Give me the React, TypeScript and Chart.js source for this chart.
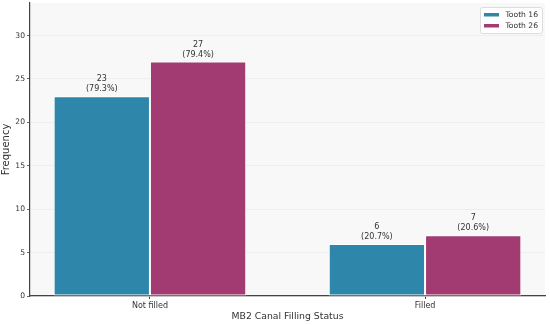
import React, { useEffect, useRef } from "react";
import { Chart, registerables } from "chart.js";

Chart.register(...registerables);

const categories = ["Not filled", "Filled"];
const seriesNames = ["Tooth 16", "Tooth 26"];
const tooth16 = [23, 6];
const tooth26 = [27, 7];
const seriesColors = ["#2E86AB", "#A23B72"];
const yTicks = [0, 5, 10, 15, 20, 25, 30];

const FONT = "'DejaVu Sans', sans-serif";

export default function App() {
  const ref = useRef<HTMLCanvasElement | null>(null);
  useEffect(() => {
    const canvas = ref.current;
    if (!canvas) return;
    const series = [tooth16, tooth26];
    const totals = series.map((s) => s.reduce((a, b) => a + b, 0));

    const bgPlugin = {
      id: "bg",
      beforeDraw(chart: any) {
        const { ctx, chartArea: a } = chart;
        ctx.save();
        ctx.fillStyle = "#f8f8f8";
        ctx.fillRect(a.left, a.top, a.right - a.left, a.bottom - a.top);
        ctx.restore();
      },
    };

    const labelPlugin = {
      id: "labels",
      afterDatasetsDraw(chart: any) {
        const { ctx } = chart;
        ctx.save();
        ctx.font = `8px ${FONT}`;
        ctx.fillStyle = "#333";
        ctx.textAlign = "center";
        ctx.textBaseline = "alphabetic";
        chart.data.datasets.forEach((ds: any, di: number) => {
          const meta = chart.getDatasetMeta(di);
          meta.data.forEach((bar: any, i: number) => {
            const v = series[di][i];
            const pct = ((v / totals[di]) * 100).toFixed(1);
            ctx.fillText(String(v), bar.x, bar.y - 15);
            ctx.fillText(`(${pct}%)`, bar.x, bar.y - 5);
          });
        });
        ctx.restore();
      },
    };

    const legendPlugin = {
      id: "customLegend",
      afterDraw(chart: any) {
        const { ctx, chartArea: a } = chart;
        const w = 62;
        const h = 26;
        const x = a.right - w - 3;
        const y = a.top + 4;
        ctx.save();
        ctx.fillStyle = "rgba(255,255,255,0.85)";
        ctx.strokeStyle = "#dddddd";
        ctx.lineWidth = 1;
        ctx.beginPath();
        if ((ctx as any).roundRect) (ctx as any).roundRect(x + 0.5, y + 0.5, w, h, 2);
        else ctx.rect(x + 0.5, y + 0.5, w, h);
        ctx.fill();
        ctx.stroke();
        ctx.font = `7.6px ${FONT}`;
        ctx.textAlign = "left";
        ctx.textBaseline = "middle";
        seriesNames.forEach((name, i) => {
          const cy = y + 7.5 + i * 11;
          ctx.fillStyle = seriesColors[i];
          ctx.fillRect(x + 4, cy - 1.5, 15, 3.5);
          ctx.fillStyle = "#333";
          ctx.fillText(name, x + 25.5, cy + 0.5);
        });
        ctx.restore();
      },
    };

    const chart = new Chart(canvas, {
      type: "bar",
      data: {
        datasets: series.map((s, di) => ({
          label: seriesNames[di],
          data: s.map((v, i) => ({ x: i, y: v })),
          backgroundColor: seriesColors[di],
          borderColor: "#ffffff",
          borderWidth: 1,
          borderSkipped: false,
          categoryPercentage: 0.7,
          barPercentage: 1,
        })),
      },
      options: {
        animation: false,
        responsive: false,
        maintainAspectRatio: false,
        layout: { padding: { top: 3, right: 5, left: 0, bottom: 0 } },
        plugins: {
          legend: { display: false },
          tooltip: { enabled: false },
        },
        scales: {
          x: {
            type: "linear",
            offset: false,
            min: -0.436,
            max: 1.436,
            afterBuildTicks: (scale: any) => {
              scale.ticks = categories.map((_, i) => ({ value: i }));
            },
            afterFit: (scale: any) => {
              scale.height = 29;
              scale.paddingLeft = 0;
              scale.paddingRight = 0;
            },
            ticks: {
              callback: (v: any) => categories[v as number] ?? "",
              font: { family: FONT, size: 8 },
              color: "#333",
              padding: 2,
              maxRotation: 0,
              autoSkip: false,
            },
            grid: {
              offset: false,
              drawOnChartArea: false,
              drawTicks: true,
              tickLength: 3,
              tickColor: "#444",
            },
            border: { color: "#444", width: 1.2 },
            title: {
              display: true,
              text: "MB2 Canal Filling Status",
              font: { family: FONT, size: 9.3 },
              color: "#333",
              padding: { top: 1, bottom: 3 },
            },
          },
          y: {
            type: "linear",
            min: 0,
            max: 33.75,
            afterBuildTicks: (scale: any) => {
              scale.ticks = yTicks.map((v) => ({ value: v }));
            },
            afterFit: (scale: any) => {
              scale.width = 30;
              scale.paddingTop = 0;
              scale.paddingBottom = 0;
            },
            ticks: {
              font: { family: FONT, size: 7.6 },
              color: "#333",
              padding: 2,
            },
            grid: {
              color: "#ebebeb",
              lineWidth: 0.8,
              tickLength: 3,
              tickColor: "#444",
            },
            border: { color: "#444", width: 1.2 },
            title: {
              display: true,
              text: "Frequency",
              font: { family: FONT, size: 10 },
              color: "#333",
              padding: { top: 0, bottom: 0 },
            },
          },
        },
      } as any,
      plugins: [bgPlugin, labelPlugin, legendPlugin],
    });
    return () => chart.destroy();
  }, []);

  return (
    <div style={{ position: "fixed", left: 0, top: 0, width: 550, height: 325, background: "#fff" }}>
      <canvas ref={ref} width={550} height={325} style={{ width: 550, height: 325 }} />
    </div>
  );
}
